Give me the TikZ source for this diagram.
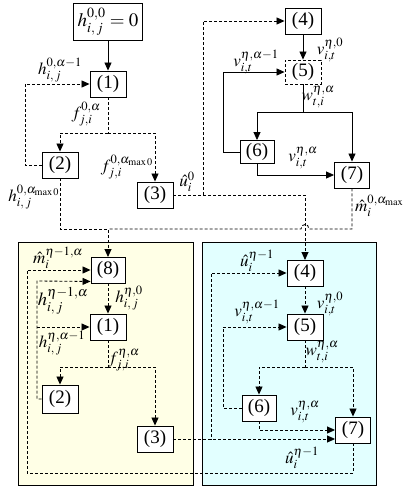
\documentclass[tikz,border=0pt]{standalone}
\usepackage{mathptmx}
\usepackage[no-math]{fontspec}
\setmainfont{Liberation Serif}
\usetikzlibrary{arrows.meta}
\definecolor{panelA}{RGB}{255,255,230}
\definecolor{panelB}{RGB}{226,255,255}
\tikzset{
  blk/.style={draw, line width=0.9pt, fill=white, minimum width=36pt, minimum height=26pt,
              inner sep=0pt, font=\fontsize{19}{21}\selectfont},
  sol/.style={draw, line width=0.8pt},
  dsh/.style={draw, line width=0.85pt, dash pattern=on 3pt off 2pt},
  arr/.style={-{Triangle[length=8pt,width=7pt]}},
  lab/.style={inner sep=0pt, font=\fontsize{17}{19}\selectfont},
  panel/.style={draw, line width=0.8pt}
}
\begin{document}
\begin{tikzpicture}[x=1pt,y=-1pt]
\useasboundingbox (0,0) rectangle (404,490);

% two background panels
\path[panel, fill=panelA] (18,242) rectangle (193,485);
\path[panel, fill=panelB] (202,242) rectangle (376,485);

% ---------- upper stage ----------
\node[blk, minimum width=69pt, minimum height=37pt, font=\fontsize{19}{21}\selectfont] (h00) at (108,21.5) {$h^{0,0}_{i,\,j}=0$};
\node[blk] (t1) at (108,84) {(1)};
\node[blk] (t2) at (60,165) {(2)};
\node[blk] (t3) at (155,195) {(3)};
\node[blk] (t4) at (303,21) {(4)};
\node[blk, dashed, dash pattern=on 3pt off 2pt, minimum height=24pt] (t5) at (303,72) {(5)};
\node[blk, minimum width=34pt, minimum height=23pt] (t6) at (257,152) {(6)};
\node[blk, minimum width=35pt] (t7) at (352,175) {(7)};

\coordinate (fa) at (108,133);
\coordinate (jm) at (108,229);
\coordinate (ua) at (203,195);
\coordinate (wa) at (303,112);

\draw[sol,arr] (h00) -- (t1);
\draw[dsh,arr] (t2.west) -- (25,165) -- (25,84) -- (t1.west);
\draw[dsh] (t1.south) -- (fa);
\draw[dsh,arr] (fa) -| (t2.north);
\draw[dsh,arr] (fa) -| (t3.north);
\draw[dsh,arr] (t2.south) |- (jm) -- (108,257);
\draw[dsh] (t7.south) -- (352,229) -- (309,229) .. controls (309,223) and (301,223) .. (301,229) -- (jm);
\draw[dsh,arr] (t3.east) -- (ua) -- (203,21) -- (t4.west);
\draw[dsh,arr] (t3.east) -- (305,195) -- (305,260);

\draw[sol,arr] (t4) -- (t5);
\draw[sol,arr] (t6.west) -- (223,152) -- (223,72) -- (t5.west);
\draw[sol] (t5.south) -- (wa);
\draw[sol,arr] (wa) -| (t6.north);
\draw[sol,arr] (wa) -| (t7.north);
\draw[sol,arr] (t6.south) |- (t7.west);

\node[lab] (l1) at (60,70) {$h^{0,\alpha-1}_{i,\,j}$};
\node[lab] (l2) at (86,114) {$f^{0,\alpha}_{j,i}$};
\node[lab] (l3) at (127,167) {$f^{0,\alpha_{\max 0}}_{j,i}$};
\node[lab] (l4) at (34,197) {$h^{0,\alpha_{\max 0}}_{i,\,j}$};
\node[lab] (l5) at (187,182) {$\hat{u}^{0}_{i}$};
\node[lab] (l6) at (256,62) {$v^{\eta,\alpha-1}_{i,t}$};
\node[lab] (l7) at (330,50) {$v^{\eta,0}_{i,t}$};
\node[lab] (l8) at (318,97) {$w^{\eta,\alpha}_{t,i}$};
\node[lab] (l9) at (303,158) {$v^{\eta,\alpha}_{i,t}$};
\node[lab, anchor=west] (l10) at (355,206) {$\hat{m}^{0,\alpha_{\max 1}}_{i}$};

% ---------- lower stage, left panel ----------
\node[blk, minimum width=34pt] (b8) at (108,270) {(8)};
\node[blk] (b1) at (108,327) {(1)};
\node[blk, minimum height=28pt] (b2) at (60,399) {(2)};
\node[blk] (b3) at (155,439) {(3)};

% ---------- lower stage, right panel ----------
\node[blk] (b4) at (305,273) {(4)};
\node[blk] (b5) at (305,327) {(5)};
\node[blk, minimum width=34pt] (b6) at (259,408) {(6)};
\node[blk, minimum width=35pt] (b7) at (353,430) {(7)};

\coordinate (fb) at (108,367);
\coordinate (wb) at (305,367);

\draw[dsh,arr] (b7.south) -- (353,473) -- (27,473) -- (27,270) -- (b8.west);
\draw[dsh,arr] (b2.west) -- (37,399) -- (37,281) -- ([yshift=2pt]b8.south west);
\draw[dsh,arr] (37,327) -- (b1.west);
\draw[dsh,arr] (b8) -- (b1);
\draw[dsh] (b1.south) -- (fb);
\draw[dsh,arr] (fb) -| (b2.north);
\draw[dsh,arr] (fb) -| (b3.north);

\draw[dsh,arr] (b3.east) -- (b7.west |- b3.east);
\draw[dsh,arr] (b3.east) -- (211,439) -- (211,273) -- (b4.west);
\draw[dsh,arr] (b4) -- (b5);
\draw[dsh,arr] (b6.west) -- (223,408) -- (223,327) -- (b5.west);
\draw[dsh] (b5.south) -- (wb);
\draw[dsh,arr] (wb) -| (b6.north);
\draw[dsh,arr] (wb) -| (b7.north);
\draw[dsh,arr] (b6.south) |- (b7.west);

\node[lab] (m1) at (58,258) {$\hat{m}^{\eta-1,\alpha}_{i}$};
\node[lab, font=\fontsize{18.5}{20}\selectfont] (m2) at (63,301) {$h^{\eta-1,\alpha}_{i,\,j}$};
\node[lab] (m3) at (129,298) {$h^{\eta,0}_{i,\,j}$};
\node[lab] (m4) at (62,343) {$h^{\eta,\alpha-1}_{i,\,j}$};
\node[lab] (m5) at (124,360) {$f^{\eta,\alpha}_{j,i}$};
\node[lab] (m6) at (257,261) {$\hat{u}^{\eta-1}_{i}$};
\node[lab] (m7) at (330,304) {$v^{\eta,0}_{i,t}$};
\node[lab] (m8) at (257,312) {$v^{\eta,\alpha-1}_{i,t}$};
\node[lab] (m9) at (322,352) {$w^{\eta,\alpha}_{t,i}$};
\node[lab] (m10) at (305,412) {$v^{\eta,\alpha}_{i,t}$};
\node[lab] (m11) at (302,458) {$\hat{u}^{\eta-1}_{i}$};
\end{tikzpicture}
\end{document}
